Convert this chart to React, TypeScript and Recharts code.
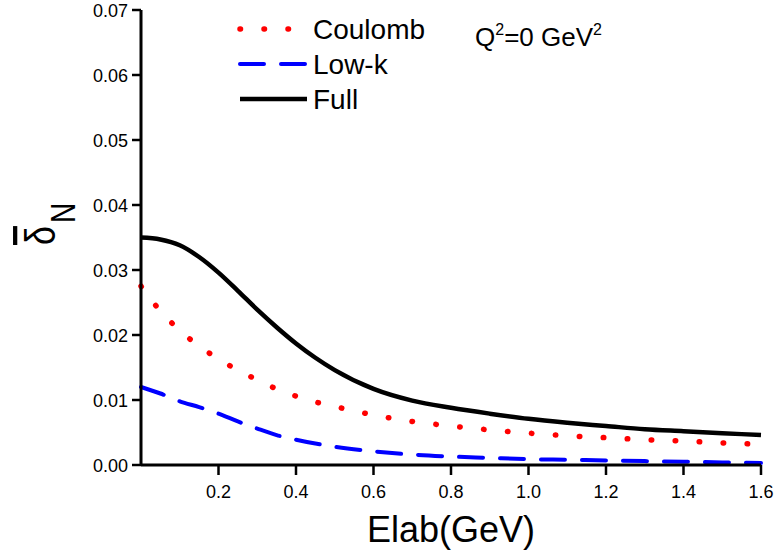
import React from 'react';
import { Legend, Line, LineChart, XAxis, YAxis } from 'recharts';

const ENERGY = [0, 0.05, 0.1, 0.15, 0.2, 0.25, 0.3, 0.35, 0.4, 0.45, 0.5, 0.6, 0.7, 0.8, 0.9, 1.0, 1.1, 1.2, 1.3, 1.4, 1.5, 1.6];
const COULOMB = [0.0275, 0.0237, 0.0207, 0.0183, 0.0163, 0.0146, 0.0131, 0.0117, 0.0106, 0.0097, 0.009, 0.0077, 0.0067, 0.006, 0.0054, 0.0049, 0.0045, 0.0042, 0.0039, 0.0037, 0.0034, 0.0032];
const LOW_K = [0.012, 0.011, 0.0098, 0.0089, 0.0079, 0.0067, 0.0056, 0.0046, 0.0039, 0.0033, 0.0028, 0.0021, 0.0016, 0.0013, 0.0011, 0.0009, 0.0008, 0.0007, 0.0006, 0.0005, 0.0004, 0.0003];
const FULL = [0.035, 0.0347, 0.0338, 0.032, 0.0296, 0.0268, 0.0239, 0.0212, 0.0187, 0.0165, 0.0146, 0.0117, 0.0099, 0.0088, 0.0079, 0.0071, 0.0065, 0.006, 0.0055, 0.0052, 0.0049, 0.0046];

const X_MAJOR = [0.2, 0.4, 0.6, 0.8, 1.0, 1.2, 1.4, 1.6];
const X_MINOR = [0.1, 0.3, 0.5, 0.7, 0.9, 1.1, 1.3, 1.5];
const Y_MAJOR = [0, 0.01, 0.02, 0.03, 0.04, 0.05, 0.06, 0.07];
const Y_MINOR = [0.005, 0.015, 0.025, 0.035, 0.045, 0.055, 0.065];

const FONT = '"Liberation Sans", Arial, sans-serif';

const data = ENERGY.map((e, i) => ({
  e,
  coulomb: COULOMB[i],
  lowk: LOW_K[i],
  full: FULL[i],
}));

const SERIES = [
  { key: 'coulomb', name: 'Coulomb', color: '#ff0000', width: 5.5, dash: '0.5 23.5' },
  { key: 'lowk', name: 'Low-k', color: '#0000ff', width: 4, dash: '24 17' },
  { key: 'full', name: 'Full', color: '#000000', width: 4.5, dash: undefined },
];

const AXIS_LINE = { stroke: '#000000', strokeWidth: 3 };
const TICK_LINE = { stroke: '#000000', strokeWidth: 2.5 };

function XTick(props: any) {
  const { x, y, payload } = props;
  return (
    <text x={x} y={y + 23} textAnchor="middle" fontSize={18} fontFamily={FONT} fill="#000">
      {payload.value.toFixed(1)}
    </text>
  );
}

function YTick(props: any) {
  const { x, y, payload } = props;
  return (
    <text x={x} y={y + 6.5} textAnchor="end" fontSize={18} fontFamily={FONT} fill="#000">
      {payload.value.toFixed(2)}
    </text>
  );
}

function XTitle({ viewBox }: any) {
  const { x, y, width } = viewBox;
  return (
    <text x={x + width / 2} y={y + 77} textAnchor="middle" fontSize={36} fontFamily={FONT} fill="#000">
      Elab(GeV)
    </text>
  );
}

function YTitle({ viewBox }: any) {
  const { x, y } = viewBox;
  return (
    <g transform={`translate(${x + 55},${y + 235}) rotate(-90) scale(1,1.25)`} fontFamily={FONT} fill="#000">
      <text x={0} y={0} fontSize={34} textDecoration="overline" style={{ textDecoration: 'overline' }}>
        δ
      </text>
      <text x={22} y={16} fontSize={28}>N</text>
    </g>
  );
}

function LegendBox() {
  return (
    <svg width={774} height={120} style={{ overflow: 'visible', display: 'block' }}>
      {SERIES.map((s, i) => {
        const cy = 29 + i * 35;
        return (
          <g key={s.key}>
            <line
              x1={240}
              x2={307}
              y1={cy}
              y2={cy}
              stroke={s.color}
              strokeWidth={s.width}
              strokeDasharray={s.dash}
              strokeLinecap={s.dash ? 'round' : 'butt'}
            />
            <text x={313} y={cy + 10} fontSize={28} fontFamily={FONT} fill="#000">
              {s.name}
            </text>
          </g>
        );
      })}
      <text x={475} y={46} fontSize={26} fontFamily={FONT} fill="#000">
        Q<tspan fontSize={16} dy={-11}>2</tspan>
        <tspan dy={11}>=0 GeV</tspan>
        <tspan fontSize={16} dy={-11}>2</tspan>
      </text>
    </svg>
  );
}

export default function App() {
  return (
    <div style={{ width: 774, height: 552, background: '#fff' }}>
      <style>{'body{margin:0}'}</style>
      <LineChart width={774} height={552} data={data} margin={{ top: 10, right: 13, bottom: 0, left: 0 }}>
        <XAxis
          xAxisId="minor"
          dataKey="e"
          type="number"
          domain={[0, 1.6]}
          ticks={X_MINOR}
          interval={0}
          height={0}
          tickSize={5}
          tick={false}
          axisLine={false}
          tickLine={TICK_LINE}
        />
        <XAxis
          dataKey="e"
          type="number"
          domain={[0, 1.6]}
          ticks={X_MAJOR}
          interval={0}
          height={87}
          tickSize={10}
          tickMargin={0}
          tickLine={TICK_LINE}
          axisLine={AXIS_LINE}
          tick={(p: any) => <XTick {...p} />}
          label={<XTitle />}
        />
        <YAxis
          yAxisId="minor"
          type="number"
          domain={[0, 0.07]}
          ticks={Y_MINOR}
          interval={0}
          width={0}
          tickSize={5}
          tick={false}
          axisLine={false}
          tickLine={TICK_LINE}
        />
        <YAxis
          type="number"
          domain={[0, 0.07]}
          ticks={Y_MAJOR}
          interval={0}
          width={141}
          tickSize={9}
          tickMargin={4}
          tickLine={TICK_LINE}
          axisLine={AXIS_LINE}
          tick={(p: any) => <YTick {...p} />}
          label={<YTitle />}
        />
        <Legend
          layout="horizontal"
          verticalAlign="middle"
          align="center"
          wrapperStyle={{ position: 'absolute', top: 0, left: 0, width: 0, height: 0, overflow: 'visible' }}
          content={() => <LegendBox />}
        />
        {SERIES.map((s) => (
          <Line
            key={s.key}
            dataKey={s.key}
            name={s.name}
            type="monotone"
            stroke={s.color}
            strokeWidth={s.width}
            strokeDasharray={s.dash}
            strokeLinecap={s.dash ? 'round' : 'butt'}
            dot={false}
            activeDot={false}
            isAnimationActive={false}
          />
        ))}
      </LineChart>
    </div>
  );
}
